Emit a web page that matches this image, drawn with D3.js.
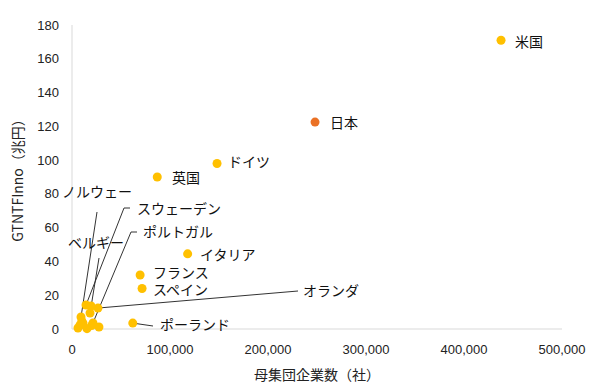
<!DOCTYPE html>
<html>
<head>
  <meta charset="utf-8">
  <script src="https://d3js.org/d3.v7.min.js"></script>
  <style>
    body { margin: 0; background: #fff; }
    .tick-label { font: 13px "Liberation Sans", Arial, sans-serif; fill: #222; }
    .axis-title { font: 14px "Noto Sans CJK JP", sans-serif; fill: #222; }
    .point-label { font: 14px "Noto Sans CJK JP", sans-serif; fill: #111; }
  </style>
</head>
<body>
  <div id="chart"></div>
  <script>
    // countries (labelled points)
    const countries = ["米国", "日本", "ドイツ", "英国", "イタリア", "フランス", "スペイン", "ポーランド",
      "ノルウェー", "スウェーデン", "ベルギー", "ポルトガル", "オランダ"];
    const firms = [437800, 248000, 148000, 87000, 118000, 69500, 71500, 62000,
      9200, 14300, 18400, 21400, 26500];
    const gtntf = [171, 122.5, 98, 90, 44.5, 32, 24, 3.5,
      7.1, 14.2, 9.5, 3.6, 12.4];

    // unlabelled points near the origin
    const otherFirms = [19400, 6100, 11200, 15300, 27500, 8200, 20000, 10000];
    const otherGtntf = [13.6, 0.6, 3.5, 0.2, 1.2, 2.4, 2.0, 4.8];

    const xTicks = [0, 100000, 200000, 300000, 400000, 500000];
    const yTicks = [0, 20, 40, 60, 80, 100, 120, 140, 160, 180];

    // label layout in pixels: text start x, middle y, leader line start points
    const labelLayout = {
      "米国": { x: 515, y: 42 },
      "日本": { x: 330, y: 123 },
      "ドイツ": { x: 228, y: 162 },
      "英国": { x: 172, y: 178 },
      "イタリア": { x: 200, y: 255 },
      "フランス": { x: 153, y: 273 },
      "スペイン": { x: 153, y: 290 },
      "ポーランド": { x: 160, y: 325, leader: [[153, 326]] },
      "ノルウェー": { x: 62, y: 192, leader: [[97, 212]] },
      "スウェーデン": { x: 137, y: 209, leader: [[130, 208], [124, 208]] },
      "ベルギー": { x: 68, y: 243, leader: [[99, 258]] },
      "ポルトガル": { x: 143, y: 232, leader: [[137, 232], [131, 232]] },
      "オランダ": { x: 303, y: 291, leader: [[298, 291]] }
    };

    const W = 600, H = 391;
    const margin = { top: 25, right: 38, bottom: 62, left: 72 };

    const svg = d3.select("#chart").append("svg")
      .attr("width", W).attr("height", H);

    const x = d3.scaleLinear().domain([0, 500000]).range([margin.left, W - margin.right]);
    const y = d3.scaleLinear().domain([0, 180]).range([H - margin.bottom, margin.top]);

    // axis lines
    svg.append("line")
      .attr("x1", x(0)).attr("x2", x(0))
      .attr("y1", y(180)).attr("y2", y(0))
      .attr("stroke", "#d9d9d9").attr("stroke-width", 1);
    svg.append("line")
      .attr("x1", x(0)).attr("x2", x(500000))
      .attr("y1", y(0)).attr("y2", y(0))
      .attr("stroke", "#d9d9d9").attr("stroke-width", 1);

    // tick labels
    svg.selectAll(".ytick").data(yTicks).enter().append("text")
      .attr("class", "tick-label")
      .attr("x", x(0) - 13)
      .attr("y", d => y(d))
      .attr("dy", "0.35em")
      .attr("text-anchor", "end")
      .text(d => d);

    svg.selectAll(".xtick").data(xTicks).enter().append("text")
      .attr("class", "tick-label")
      .attr("x", d => x(d))
      .attr("y", y(0) + 20)
      .attr("dy", "0.35em")
      .attr("text-anchor", "middle")
      .text(d => d3.format(",")(d));

    // axis titles
    svg.append("text")
      .attr("class", "axis-title")
      .attr("text-anchor", "middle")
      .attr("x", (x(0) + x(500000)) / 2)
      .attr("y", H - 11)
      .text("母集団企業数（社）");

    svg.append("text")
      .attr("class", "axis-title")
      .attr("text-anchor", "middle")
      .attr("dy", "0.35em")
      .attr("transform", `translate(18,${(y(0) + y(180)) / 2}) rotate(-90)`)
      .text("GTNTFInno（兆円）");

    const pts = countries.map((c, i) => ({ name: c, fx: firms[i], gy: gtntf[i] }));
    const others = otherFirms.map((f, i) => ({ fx: f, gy: otherGtntf[i] }));

    // leader lines
    const line = d3.line();
    pts.forEach(p => {
      const lay = labelLayout[p.name];
      if (!lay.leader) return;
      const path = lay.leader.concat([[x(p.fx), y(p.gy)]]);
      svg.append("path")
        .attr("d", line(path))
        .attr("fill", "none")
        .attr("stroke", "#333")
        .attr("stroke-width", 1);
    });

    // points
    svg.selectAll(".other").data(others).enter().append("circle")
      .attr("cx", d => x(d.fx)).attr("cy", d => y(d.gy))
      .attr("r", 4.5).attr("fill", "#ffc000");

    svg.selectAll(".pt").data(pts).enter().append("circle")
      .attr("cx", d => x(d.fx)).attr("cy", d => y(d.gy))
      .attr("r", 4.5)
      .attr("fill", d => d.name === "日本" ? "#ea7125" : "#ffc000");

    // labels
    svg.selectAll(".lbl").data(pts).enter().append("text")
      .attr("class", "point-label")
      .attr("x", d => labelLayout[d.name].x)
      .attr("y", d => labelLayout[d.name].y)
      .attr("dy", "0.35em")
      .text(d => d.name);
  </script>
</body>
</html>
